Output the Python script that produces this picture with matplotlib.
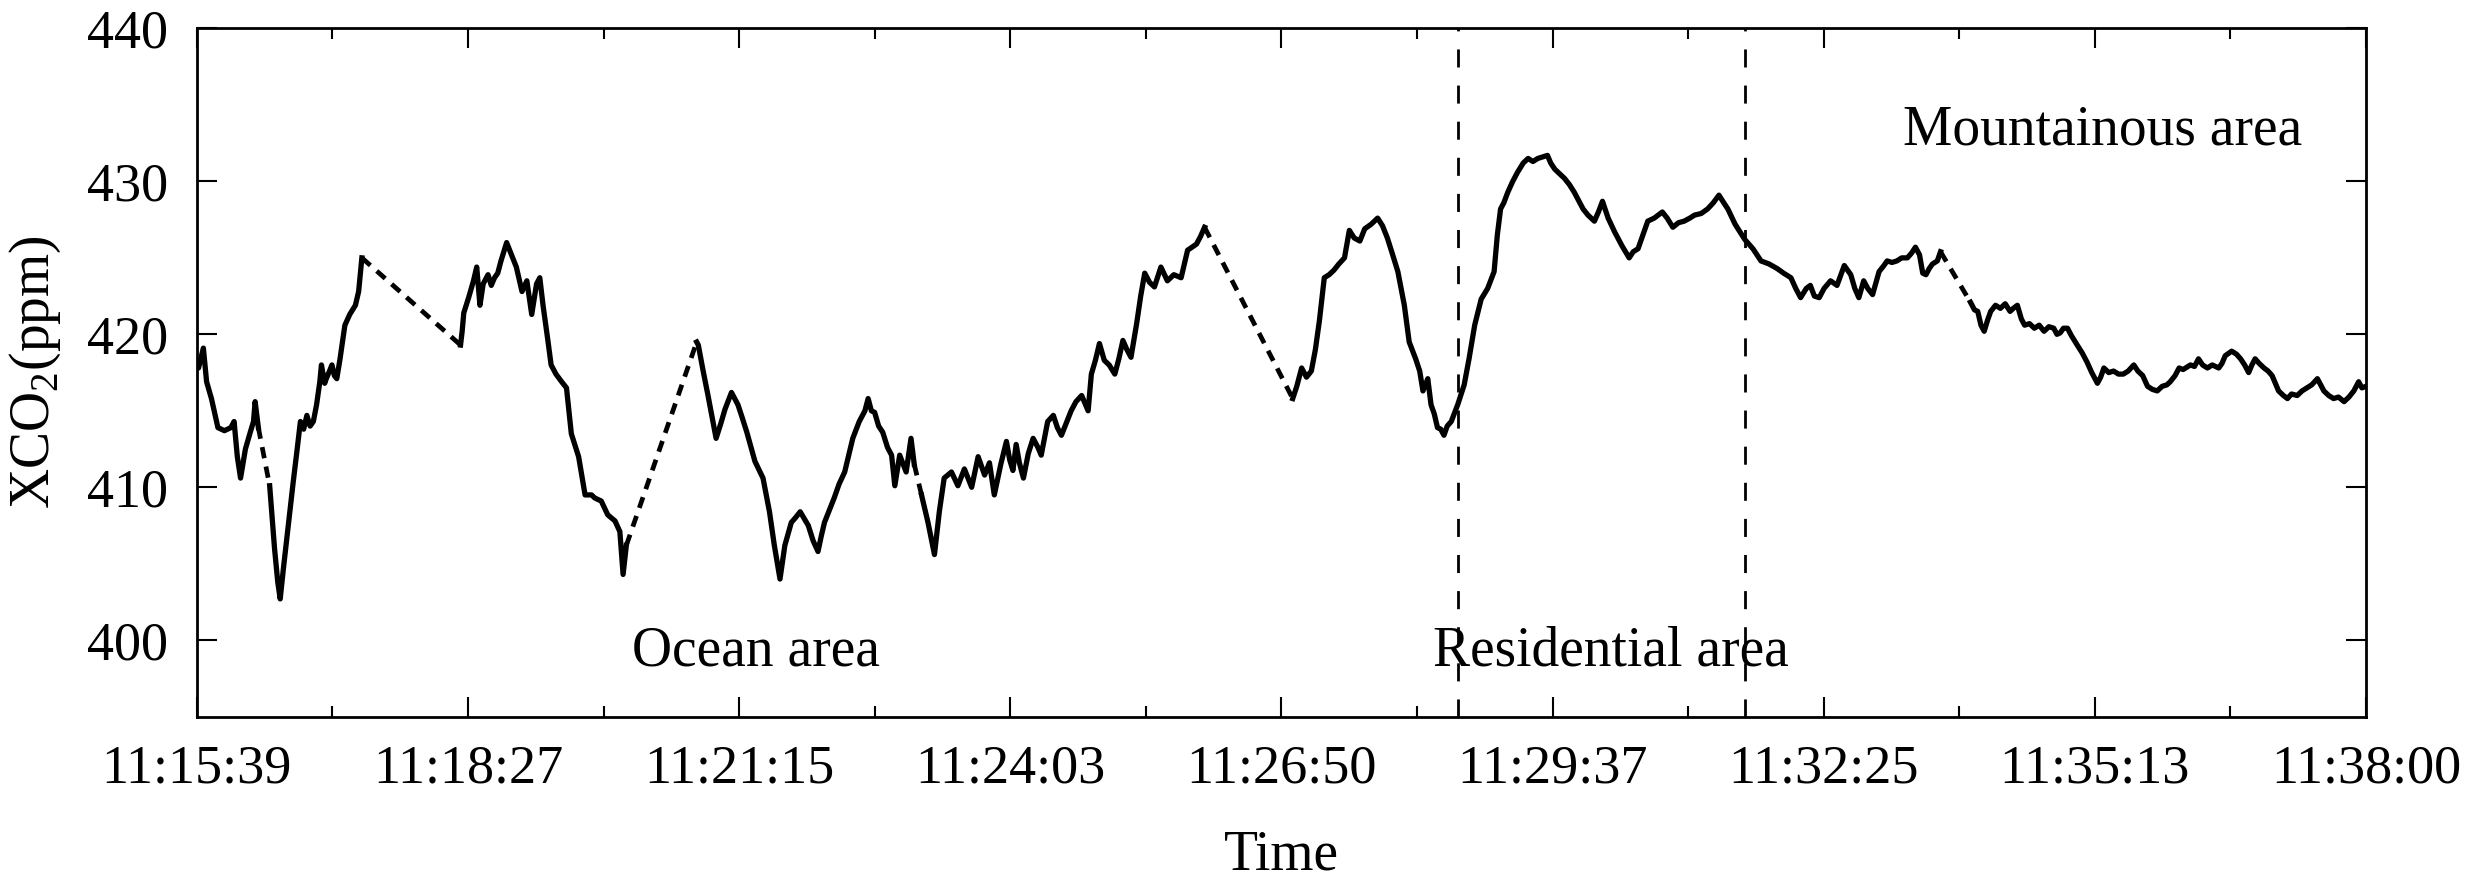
import matplotlib
matplotlib.use("Agg")
import matplotlib.pyplot as plt
from matplotlib.ticker import AutoMinorLocator

plt.rcParams['font.family'] = 'Liberation Serif'
plt.rcParams['mathtext.fontset'] = 'custom'
plt.rcParams['mathtext.rm'] = 'Liberation Serif'

# (seconds after 11:15:39, XCO2 ppm) - recorded pieces, gaps between them
seg_a = [(0, 418.0), (1, 417.8), (4, 419.1), (6, 416.9), (9, 415.8), (13, 413.9),
         (17, 413.7), (21, 413.9), (23, 414.3), (25, 412.0), (27, 410.6), (30, 412.5),
         (33, 413.6), (35, 414.3), (36, 415.6), (38, 413.9)]
seg_b = [(45, 410.1), (48, 406.0), (50, 403.8), (51.5, 402.7), (53.5, 404.7), (56.5, 407.5),
         (59.5, 410.3), (62, 412.5), (64, 414.3), (66, 413.8), (68, 414.7), (70, 414.0),
         (72, 414.3), (74, 415.4), (76, 416.9), (77, 418.0), (79, 416.8), (80, 417.1),
         (82, 417.6), (83.5, 418.0), (85, 417.3), (86.5, 417.1), (88.5, 418.4), (91.5, 420.6),
         (94.5, 421.3), (98, 421.9), (100, 422.8), (102, 425.0)]
seg_c = [(163, 419.3), (164, 420.2), (165, 421.4), (168, 422.4), (171, 423.5), (173, 424.4),
         (175, 421.9), (177, 423.3), (180, 423.9), (182, 423.2), (184, 423.7), (186, 424.0),
         (188, 424.8), (191.5, 426.0), (194.5, 425.2), (197.5, 424.4), (201, 422.8), (204, 423.5),
         (207, 421.3), (210, 423.3), (212, 423.7), (214, 421.9), (217, 419.6), (219, 418.0),
         (222, 417.4), (225.5, 416.9), (228.5, 416.5), (231.5, 413.5), (236, 412.0), (240, 409.5),
         (244, 409.5), (246, 409.3), (250, 409.1), (254, 408.2), (258.5, 407.8), (261.5, 407.1),
         (263.5, 404.3), (265.5, 406.2)]
seg_d = [(309, 419.5), (310, 419.3), (313, 417.6), (316, 416.0), (318.5, 414.6), (321, 413.2),
         (324, 414.2), (326.5, 415.1), (330.5, 416.2), (334.5, 415.4), (337, 414.6), (340, 413.6),
         (345, 411.7), (350, 410.6), (354, 408.4), (357, 406.2), (360.5, 404.0), (363.5, 406.2),
         (367.5, 407.7), (370, 408.0), (373, 408.4), (378, 407.5), (381, 406.5), (384, 405.8),
         (386, 406.8), (388, 407.7), (391, 408.5), (394, 409.3), (397, 410.2), (400.5, 411.0),
         (405.5, 413.2), (409.5, 414.3), (413, 415.0), (415, 415.8), (417, 415.0), (419, 414.9),
         (421.5, 414.0), (424, 413.6), (427, 412.6), (429.5, 412.1), (431.5, 410.1), (434.5, 412.1),
         (438.5, 411.0), (441.5, 413.2), (443.5, 411.5)]
seg_e = [(448, 409.5), (452, 407.7), (456, 405.6), (459, 408.4), (462, 410.6), (466.5, 411.0),
         (470.5, 410.1), (474.5, 411.2), (479, 410.0), (483, 412.0), (487, 410.8), (490, 411.6),
         (493, 409.5), (497, 411.5), (500.5, 413.0), (502.5, 411.8), (504.5, 411.1), (506.5, 412.8),
         (508.5, 411.6), (511, 410.6), (514, 412.2), (517, 413.2), (520, 412.6), (522, 412.1),
         (526, 414.3), (529.5, 414.7), (532, 413.9), (534.5, 413.4), (540.5, 415.0), (543.5, 415.6),
         (547, 416.0), (551, 415.0), (553, 417.4), (555.5, 418.3), (558, 419.4), (561, 418.3),
         (564, 418.0), (567.5, 417.4), (570, 418.4), (572.5, 419.6), (575, 419.0), (577.5, 418.5),
         (581, 420.7), (583.5, 422.5), (586, 424.0), (589, 423.4), (592, 423.1), (596, 424.4),
         (600, 423.5), (604, 423.9), (608.5, 423.7), (612.5, 425.5), (618, 425.9), (620.5, 426.4),
         (623, 427.0)]
seg_f = [(677.5, 415.8), (680, 416.6), (683, 417.8), (686, 417.2), (689, 417.6), (691.5, 419.0),
         (694, 420.9), (697, 423.7), (700, 423.9), (703, 424.2), (706, 424.6), (709.5, 425.0),
         (712.5, 426.8), (715.5, 426.3), (719, 426.1), (722, 426.9), (726, 427.2), (730, 427.6),
         (733, 427.1), (736, 426.3), (739, 425.3), (742.5, 424.1), (746.5, 421.9), (749.5, 419.5),
         (753.5, 418.4), (756, 417.6), (758, 416.3), (761, 417.1), (763, 415.4), (765, 414.8),
         (767, 413.9), (769, 413.8), (771, 413.4), (773, 414.0), (775.5, 414.3), (779.5, 415.4),
         (783.5, 416.7), (786.5, 418.4), (790, 420.6), (794, 422.3), (798, 423.0), (802, 424.1),
         (804, 426.5), (806, 428.2), (808, 428.6), (810.5, 429.3), (813.5, 430.0), (816.5, 430.6),
         (820, 431.2), (823, 431.5), (826, 431.3), (829, 431.5), (832, 431.6), (835, 431.7),
         (837, 431.2), (839.5, 430.8), (842.5, 430.5), (845.5, 430.2), (848.5, 429.8), (851.5, 429.3),
         (854, 428.8), (857, 428.2), (860, 427.8), (864, 427.4), (866.5, 428.0), (869, 428.7),
         (872.5, 427.6), (876.5, 426.7), (881, 425.8), (885.5, 425.0), (888, 425.4), (891, 425.6),
         (894, 426.5), (897, 427.4), (901, 427.6), (906, 428.0), (909, 427.6), (912.5, 427.0),
         (916, 427.3), (919.5, 427.4), (923, 427.6), (926, 427.8), (930, 427.9), (934, 428.2),
         (937.5, 428.6), (941, 429.1), (944, 428.6), (946.5, 428.2), (951, 427.2), (957, 426.2),
         (962, 425.6), (967, 424.8), (972, 424.6), (977, 424.3), (981, 424.0), (985.5, 423.7),
         (988.5, 423.0), (991.5, 422.4), (995, 423.0), (997.5, 423.2), (1000, 422.5), (1003, 422.4),
         (1006, 423.0), (1010, 423.5), (1014, 423.2), (1018.5, 424.5), (1022.5, 423.9), (1025, 423.0),
         (1027.5, 422.4), (1030.5, 423.5), (1033, 423.0), (1036, 422.6), (1040, 424.1), (1043, 424.5),
         (1045, 424.8), (1048, 424.7), (1051, 424.8), (1054, 425.0), (1057.5, 425.0), (1060, 425.3),
         (1062.5, 425.7), (1065, 425.2), (1067, 424.0), (1069, 423.9), (1071, 424.3), (1073, 424.6),
         (1076, 424.8), (1078, 425.4)]
seg_g = [(1096.5, 422.1), (1099, 421.6), (1101, 421.5), (1103, 420.6), (1105, 420.2), (1107, 420.9),
         (1109, 421.5), (1112, 421.9), (1115, 421.7), (1118, 422.0), (1121, 421.5), (1123, 421.7),
         (1125.5, 421.9), (1128, 421.0), (1130, 420.6), (1133, 420.7), (1136, 420.4), (1139, 420.6),
         (1142, 420.2), (1145, 420.5), (1148, 420.4), (1150, 420.0), (1152, 420.1), (1154, 420.4),
         (1156.5, 420.4), (1159, 419.9), (1162.5, 419.3), (1165.5, 418.8), (1168.5, 418.2),
         (1171.5, 417.5), (1175, 416.8), (1177, 417.2), (1179, 417.8), (1182, 417.5), (1185, 417.6),
         (1188, 417.4), (1191, 417.4), (1194, 417.6), (1197.5, 418.0), (1200, 417.6), (1203, 417.3),
         (1206, 416.6), (1209, 416.4), (1212, 416.3), (1215, 416.6), (1218, 416.7), (1220, 416.9),
         (1223, 417.3), (1225.5, 417.8), (1228, 417.7), (1232.5, 418.0), (1235, 417.9), (1237.5, 418.4),
         (1240, 418.0), (1243, 417.8), (1246, 418.0), (1250, 417.8), (1252, 418.1), (1254, 418.6),
         (1258, 418.9), (1261, 418.7), (1263.5, 418.4), (1266, 418.0), (1268.5, 417.5), (1270.5, 418.0),
         (1272.5, 418.4), (1275, 418.1), (1278, 417.8), (1280.5, 417.6), (1283, 417.3), (1285, 416.8),
         (1287, 416.3), (1290, 416.0), (1292.5, 415.8), (1295, 416.1), (1298.5, 416.0), (1301.5, 416.3),
         (1304.5, 416.5), (1307.5, 416.7), (1311, 417.1), (1313, 416.7), (1315, 416.3), (1318, 416.0),
         (1321, 415.8), (1324, 415.9), (1327.5, 415.6), (1330.5, 415.9), (1333.5, 416.3), (1336.5, 416.9),
         (1338.5, 416.5), (1341, 416.6)]
segments = [seg_a, seg_b, seg_c, seg_d, seg_e, seg_f, seg_g]

t_end = 1341  # 11:38:00
tick_labels = ["11:15:39", "11:18:27", "11:21:15", "11:24:03", "11:26:50",
               "11:29:37", "11:32:25", "11:35:13", "11:38:00"]
zone_bounds = [779.5, 957.0]  # ~11:28:38 and ~11:31:36

fig = plt.figure(figsize=(24.86, 8.81), dpi=100)
ax = fig.add_axes([0.0792, 0.1865, 0.8725, 0.7812])

for s in segments:
    t, v = zip(*s)
    ax.plot(t, v, color='k', lw=3.8)

# dashed joins across the gaps in the record
for a, b in zip(segments[:-1], segments[1:]):
    ax.plot([a[-1][0], b[0][0]], [a[-1][1], b[0][1]], color='k', lw=3.4, ls=(0, (2.4, 1.8)))

for xb in zone_bounds:
    ax.axvline(xb, color='k', lw=2, ls=(0, (6.5, 6.5)))

ax.text(268.7, 398.36, "Ocean area", fontsize=40, ha='left', va='baseline')
ax.text(764.0, 398.36, "Residential area", fontsize=40, ha='left', va='baseline')
ax.text(1054.6, 432.44, "Mountainous area", fontsize=40, ha='left', va='baseline')

ax.set_xlim(0, t_end)
ax.set_ylim(395, 440)
ax.set_xticks([t_end * k / 8 for k in range(9)])
ax.set_xticklabels(tick_labels)
ax.set_yticks([400, 410, 420, 430, 440])
ax.xaxis.set_minor_locator(AutoMinorLocator(2))

ax.tick_params(which='both', direction='in', top=True, right=True, width=1.5, labelsize=39)
ax.tick_params(which='major', length=14.5)
ax.tick_params(which='minor', length=7.7)
ax.tick_params(axis='x', pad=20)
ax.tick_params(axis='y', pad=21)
for sp in ax.spines.values():
    sp.set_linewidth(2)

ax.set_xlabel("Time", fontsize=40)
ax.xaxis.set_label_coords(0.5, -0.164)
ax.set_ylabel(r"XCO$_\mathrm{2}$(ppm)", fontsize=40)
ax.yaxis.set_label_coords(-0.0618, 0.5)

fig.savefig("out.png", dpi=100)
